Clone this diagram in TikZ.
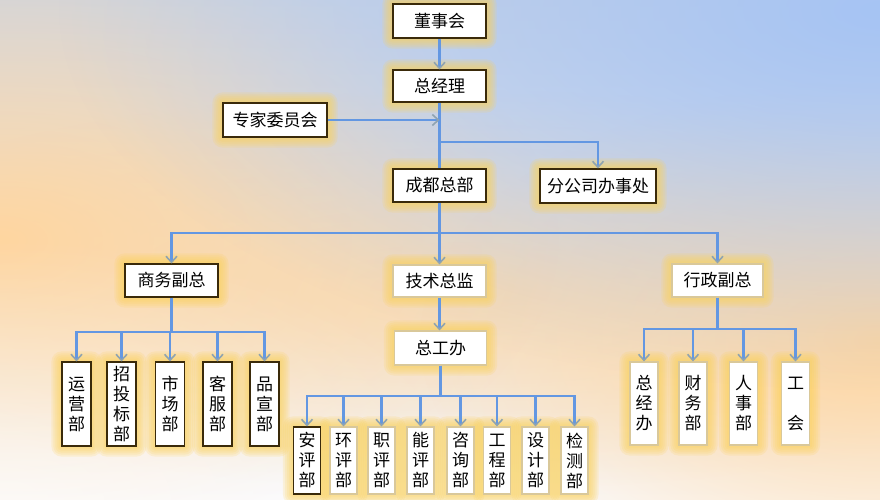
\documentclass[tikz,border=0pt]{standalone}
\usepackage{fontspec}
\setmainfont{Noto Sans CJK SC}
\usetikzlibrary{arrows.meta,fadings,calc}
\tikzfading[name=blobfade, inner color=transparent!0, outer color=transparent!100]
\definecolor{lineblue}{HTML}{6397E2}
\definecolor{tipgray}{HTML}{8FA3B0}
\definecolor{darkb}{HTML}{3A2A0A}
\definecolor{tanb}{HTML}{D9C89A}
\definecolor{glowc}{HTML}{FCD25A}
\definecolor{bgtop}{HTML}{CED5E2}
\definecolor{bgmid}{HTML}{EEE3D5}
\definecolor{bgbot}{HTML}{FAFAFC}
\definecolor{blueblob}{HTML}{A6C4F4}
\definecolor{orblob}{HTML}{FFD6A0}
\pgfdeclarelayer{bg}\pgfdeclarelayer{glow}\pgfsetlayers{bg,glow,main}
\begin{document}
\begin{tikzpicture}[x=1pt,y=-1pt,
  box/.style={draw=darkb,fill=white,line width=1.1pt,inner sep=0pt,
    font=\fontsize{17}{20}\selectfont,align=center},
  lbox/.style={box,draw=tanb},
  vbox/.style={minimum width=29pt,minimum height=84pt,text width=18pt},
  wbox/.style={minimum width=27pt,minimum height=67pt,text width=18pt},
  rbox/.style={minimum width=28pt,minimum height=83pt,text width=18pt},
  conn/.style={draw=lineblue,line width=2.2pt},
  arr/.style={conn,-{Straight Barb[length=6pt,width=11pt,line width=1.6pt,color=tipgray]}}]
\useasboundingbox (0,0) rectangle (880,500);
\begin{pgfonlayer}{bg}
\shade[top color=bgtop,middle color=bgmid,bottom color=bgbot] (0,0) rectangle (880,500);
\fill[orblob,opacity=0.7,path fading=blobfade] (470,290) ellipse [x radius=700pt,y radius=200pt];
\fill[orblob,path fading=blobfade] (0,240) ellipse [x radius=560pt,y radius=300pt];
\fill[orblob,path fading=blobfade] (880,340) ellipse [x radius=460pt,y radius=260pt];
\fill[blueblob,path fading=blobfade] (880,10) ellipse [x radius=820pt,y radius=380pt];
\fill[white,opacity=0.5,path fading=blobfade] (0,500) ellipse [x radius=500pt,y radius=260pt];
\end{pgfonlayer}

\node[box,minimum width=93pt,minimum height=34pt] (dsh) at (439.5,21) {董事会};
\node[box,minimum width=93pt,minimum height=32pt] (zjl) at (439.5,86) {总经理};
\node[box,minimum width=104pt,minimum height=34pt] (zj) at (275,120) {专家委员会};
\node[box,minimum width=93pt,minimum height=33pt] (cd) at (439.5,185.5) {成都总部};
\node[box,minimum width=116pt,minimum height=34pt] (fgs) at (598,186) {分公司办事处};
\node[box,minimum width=93pt,minimum height=33pt] (sw) at (171.5,280.5) {商务副总};
\node[lbox,minimum width=93pt,minimum height=32pt] (js) at (439.5,281) {技术总监};
\node[lbox,minimum width=91pt,minimum height=33pt] (xz) at (717.5,280.5) {行政副总};
\node[lbox,minimum width=92pt,minimum height=34pt] (zgb) at (440.5,348) {总工办};

\node[box,vbox] (l1) at (76.5,404) {运\\营\\部};
\node[box,vbox] (l2) at (121.5,404) {招\\投\\标\\部};
\node[box,vbox] (l3) at (170,404) {市\\场\\部};
\node[box,vbox] (l4) at (217.5,404) {客\\服\\部};
\node[box,vbox] (l5) at (264.5,404) {品\\宣\\部};

\node[box,wbox] (m1) at (307,460.5) {安\\评\\部};
\node[lbox,wbox] (m2) at (343.5,460.5) {环\\评\\部};
\node[lbox,wbox] (m3) at (381.5,460.5) {职\\评\\部};
\node[lbox,wbox] (m4) at (420.5,460.5) {能\\评\\部};
\node[lbox,wbox] (m5) at (460.5,460.5) {咨\\询\\部};
\node[lbox,wbox] (m6) at (497,460.5) {工\\程\\部};
\node[lbox,wbox] (m7) at (535.5,460.5) {设\\计\\部};
\node[lbox,wbox] (m8) at (574.5,460.5) {检\\测\\部};

\node[lbox,rbox] (r1) at (644,403.5) {总\\经\\办};
\node[lbox,rbox] (r2) at (693,403.5) {财\\务\\部};
\node[lbox,rbox] (r3) at (743.5,403.5) {人\\事\\部};
\node[lbox,rbox] (r4) at (795.5,403.5) {工\\[20pt]会};

\begin{pgfonlayer}{glow}
\foreach \n in {dsh,zjl,zj,cd,fgs,sw,js,xz,zgb,l1,l2,l3,l4,l5,m1,m2,m3,m4,m5,m6,m7,m8,r1,r2,r3,r4}{
  \foreach \d in {2,4,6,8,10}{
    \fill[glowc,opacity=0.18,rounded corners=\d pt]
      ([shift={(-\d pt,-\d pt)}]\n.south west) rectangle ([shift={(\d pt,\d pt)}]\n.north east);
  }}
\end{pgfonlayer}

\coordinate (b1) at (439.5,142);
\coordinate (b2) at (439.5,233);
\coordinate (b3) at (171.5,332);
\coordinate (b4) at (440.5,396);
\coordinate (b5) at (717.5,329);

\draw[arr] (dsh.south) -- (zjl.north);
\draw[conn] (zjl.south) -- (cd.north);
\draw[arr] (zj.east) -- (zj.east -| zjl.south);
\draw[arr] (b1) -| (fgs.north);
\draw[conn] (cd.south) -- (b2);
\draw[arr] (b2) -| (sw.north);
\draw[arr] (b2) -- (js.north);
\draw[arr] (b2) -| (xz.north);
\draw[arr] (js.south) -- (js.south |- zgb.north);
\draw[conn] (sw.south) -- (b3);
\foreach \n in {l1,l2,l3,l4,l5} \draw[arr] (b3) -| (\n.north);
\draw[conn] (zgb.south) -- (b4);
\foreach \n in {m1,m2,m3,m4,m5,m6,m7,m8} \draw[arr] (b4) -| (\n.north);
\draw[conn] (xz.south) -- (b5);
\foreach \n in {r1,r2,r3,r4} \draw[arr] (b5) -| (\n.north);
\end{tikzpicture}
\end{document}
